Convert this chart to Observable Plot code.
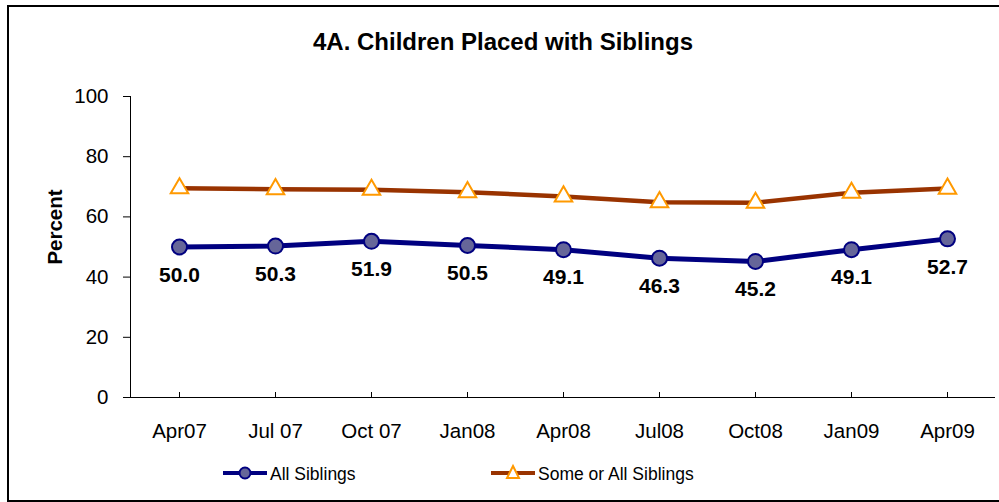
<!DOCTYPE html>
<html>
<head>
<meta charset="utf-8">
<script src="https://cdn.jsdelivr.net/npm/d3@7"></script>
<script src="https://cdn.jsdelivr.net/npm/@observablehq/plot@0.6"></script>
<style>
  html, body { margin: 0; padding: 0; background: #fff; }
  body { font-family: "Liberation Sans", Arial, sans-serif; }
  #wrap { position: relative; width: 999px; height: 502px; overflow: hidden; }
  #border { position: absolute; left: 7px; top: 5px; width: 1010px; height: 493px; border: 2px solid #000; box-sizing: content-box; }
  #title { position: absolute; left: 0; top: 28px; width: 1006px; text-align: center; font-size: 24px; font-weight: bold; line-height: 28px; color: #000; }
  #chart { position: absolute; left: 0; top: 0; }
  #legend { position: absolute; left: 0; top: 460px; width: 999px; height: 28px; }
  .item { position: absolute; top: 0; height: 28px; display: flex; align-items: center; font-size: 17.5px; color: #000; }
  .item svg { margin-right: 3px; }
</style>
</head>
<body>
<div id="wrap">
  <div id="border"></div>
  <div id="chart"></div>
  <div id="title"></div>
  <div id="legend"></div>
</div>
<script>
const chartTitle = "4A. Children Placed with Siblings";
const yLabel = "Percent";
const months = ["Apr07", "Jul 07", "Oct 07", "Jan08", "Apr08", "Jul08", "Oct08", "Jan09", "Apr09"];
const allSiblings = [50.0, 50.3, 51.9, 50.5, 49.1, 46.3, 45.2, 49.1, 52.7];
const someOrAllSiblings = [69.5, 69.2, 69.0, 68.2, 66.8, 64.9, 64.7, 68.0, 69.4];
const seriesNames = ["All Siblings", "Some or All Siblings"];
const yTicks = [0, 20, 40, 60, 80, 100];

const data = months.map((m, i) => ({month: m, all: allSiblings[i], some: someOrAllSiblings[i]}));

document.getElementById("title").textContent = chartTitle;

const blue = "#000080", blueFill = "#666699", brown = "#993300", orange = "#FF9900";

const chart = Plot.plot({
  width: 999,
  height: 455,
  marginLeft: 130,
  marginRight: 4,
  marginTop: 96,
  marginBottom: 58,
  style: {fontFamily: "Liberation Sans, Arial, sans-serif", fontSize: "20.5px", color: "#000", background: "transparent"},
  x: {type: "point", domain: months, padding: 0.5},
  y: {domain: [0, 100]},
  marks: [
    Plot.ruleY([0], {stroke: "#000", strokeWidth: 1}),
    Plot.frame({anchor: "left", stroke: "#000", strokeWidth: 1}),
    Plot.axisY({ticks: yTicks, tickSize: 7, tickPadding: 15, label: null, fontSize: 20.5}),
    Plot.text([yLabel], {frameAnchor: "left", textAnchor: "middle", rotate: -90, dx: -75, dy: -20, fontSize: 20.5, fontWeight: "bold", fill: "#000"}),
    Plot.axisX({tickSize: 5, dy: -5, tickFormat: () => "", label: null}),
    Plot.axisX({tickSize: 0, tickPadding: 26, label: null, fontSize: 20.5}),
    Plot.line(data, {x: "month", y: "some", stroke: brown, strokeWidth: 4.5}),
    Plot.dot(data, {x: "month", y: "some", symbol: "triangle", r: 6.5, fill: "#fff", stroke: orange, strokeWidth: 2}),
    Plot.line(data, {x: "month", y: "all", stroke: blue, strokeWidth: 5}),
    Plot.dot(data, {x: "month", y: "all", r: 7.5, fill: blueFill, stroke: blue, strokeWidth: 2}),
    Plot.text(data, {x: "month", y: "all", text: d => d.all.toFixed(1), dy: 28, fontSize: 21, fontWeight: "bold", fill: "#000"})
  ]
});
document.getElementById("chart").appendChild(chart);

// Legend
const legend = document.getElementById("legend");
const items = [
  {name: seriesNames[0], left: 223, stroke: blue, marker: "circle"},
  {name: seriesNames[1], left: 491, stroke: brown, marker: "triangle"}
];
for (const it of items) {
  const div = document.createElement("div");
  div.className = "item";
  div.style.left = it.left + "px";
  const ns = "http://www.w3.org/2000/svg";
  const svg = document.createElementNS(ns, "svg");
  svg.setAttribute("width", 44);
  svg.setAttribute("height", 28);
  const line = document.createElementNS(ns, "line");
  line.setAttribute("x1", 0); line.setAttribute("x2", 44);
  line.setAttribute("y1", 13); line.setAttribute("y2", 13);
  line.setAttribute("stroke", it.stroke); line.setAttribute("stroke-width", 4);
  svg.appendChild(line);
  if (it.marker === "circle") {
    const c = document.createElementNS(ns, "circle");
    c.setAttribute("cx", 22); c.setAttribute("cy", 13); c.setAttribute("r", 5.5);
    c.setAttribute("fill", blueFill); c.setAttribute("stroke", blue); c.setAttribute("stroke-width", 2);
    svg.appendChild(c);
  } else {
    const p = document.createElementNS(ns, "path");
    p.setAttribute("d", "M22,6L28,18L16,18Z");
    p.setAttribute("fill", "#fff"); p.setAttribute("stroke", orange); p.setAttribute("stroke-width", 2);
    svg.appendChild(p);
  }
  div.appendChild(svg);
  const span = document.createElement("span");
  span.textContent = it.name;
  div.appendChild(span);
  legend.appendChild(div);
}
</script>
</body>
</html>
